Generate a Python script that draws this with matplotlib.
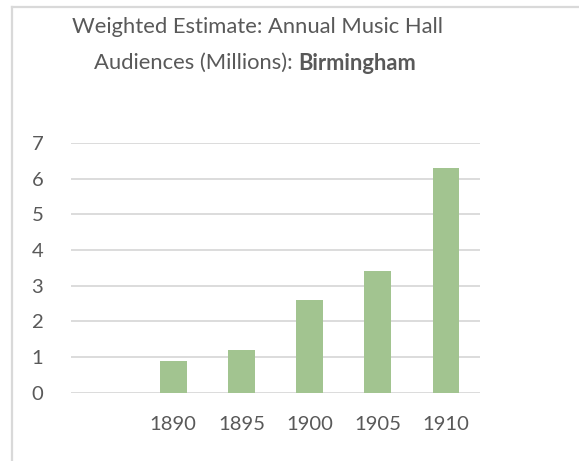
import matplotlib
matplotlib.use("Agg")
import matplotlib.pyplot as plt
from matplotlib.lines import Line2D

categories = ["", "1890", "1895", "1900", "1905", "1910"]
values = [None, 0.9, 1.2, 2.6, 3.4, 6.3]
yticks = [0, 1, 2, 3, 4, 5, 6, 7]

W, H = 579, 461
plt.rcParams['font.family'] = ['Lato', 'DejaVu Sans']
txt = '#595959'
grid = '#D9D9D9'
bar_c = '#A2C490'

fig = plt.figure(figsize=(W/100, H/100), dpi=100)
fig.patch.set_facecolor('white')

# chart frame
fig.add_artist(Line2D([11.5/W, 11.5/W], [0, 1 - 7.5/H], color=grid, lw=1.6, transform=fig.transFigure))
fig.add_artist(Line2D([11.5/W, 1], [1 - 7.5/H, 1 - 7.5/H], color=grid, lw=1.6, transform=fig.transFigure))

ax = fig.add_axes([71/W, 1 - 392.7/H, (480 - 71)/W, (392.7 - 143)/H])
xs = list(range(len(categories)))
for x, v in zip(xs, values):
    if v is not None:
        ax.bar(x, v, width=0.39, color=bar_c, zorder=3)
ax.set_xlim(-0.5, len(categories) - 0.5)
ax.set_ylim(0, 7)
ax.set_yticks(yticks)
ax.set_yticklabels([str(t) for t in yticks])
ax.set_xticks(xs)
ax.set_xticklabels(categories)
for s in ax.spines.values():
    s.set_visible(False)
ax.yaxis.grid(True, color=grid, lw=1.3, zorder=0)
ax.set_axisbelow(True)
ax.tick_params(axis='both', length=0, labelsize=14.6, colors=txt)
ax.tick_params(axis='y', pad=20)
ax.tick_params(axis='x', pad=17)

fs = 15.8
fig.text(258/W, 1 - 27/H, "Weighted Estimate: Annual Music Hall", ha='center', va='center', fontsize=fs, color=txt)
fig.text(298/W, 1 - 63/H, "Audiences (Millions): ", ha='right', va='center', fontsize=fs, color=txt)
fig.text(298/W, 1 - 63/H, "Birmingham", ha='left', va='center', fontsize=fs, color=txt, fontweight='bold')

fig.savefig('out.png', dpi=100)
